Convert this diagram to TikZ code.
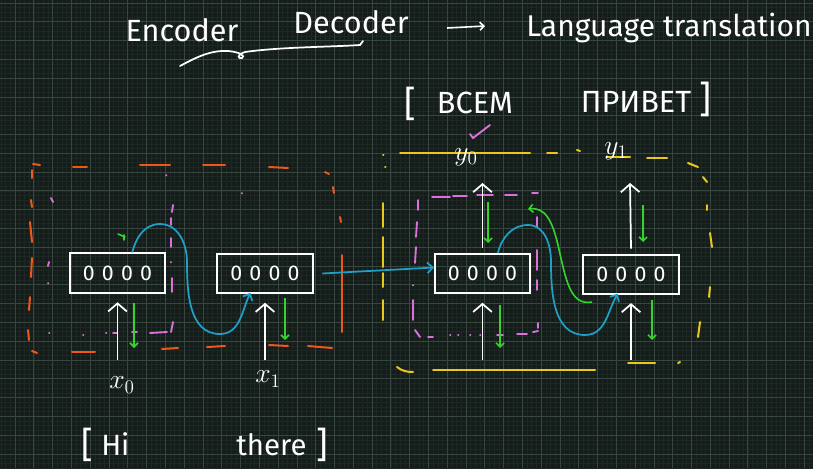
\documentclass[tikz,border=0pt]{standalone}
\usepackage{fontspec}
\setmainfont{Fira Sans}
\usetikzlibrary{arrows.meta,calc}
\definecolor{bgc}{RGB}{21,29,26}
\definecolor{gridmin}{RGB}{29,39,35}
\definecolor{gridmaj}{RGB}{56,70,64}
\definecolor{ocol}{RGB}{240,88,26}
\definecolor{pcol}{RGB}{222,112,222}
\definecolor{ycol}{RGB}{232,200,26}
\definecolor{bcol}{RGB}{30,160,200}
\definecolor{gcol}{RGB}{52,212,44}
\tikzset{
  cell/.style={draw=white, line width=1.4pt, minimum width=71.5pt, minimum height=29.5pt,
    inner sep=0pt, text=white, font=\fontsize{16}{16}\selectfont},
  warr/.style={white, line width=1.3pt, -{Straight Barb[length=6pt,width=14pt,line width=1.3pt]}},
  garr/.style={gcol, line width=1.2pt, -{Straight Barb[length=3pt,width=6pt,line width=1.2pt]}},
  barr/.style={bcol, line width=1.3pt, -{Straight Barb[length=4pt,width=8pt,line width=1.3pt]}},
  oseg/.style={ocol, line width=1.5pt, line cap=round},
  pseg/.style={pcol, line width=1.4pt, line cap=round},
  yseg/.style={ycol, line width=1.5pt, line cap=round},
  hand/.style={text=white, inner sep=0pt},
}
\newcommand{\zeros}{0\kern5.4pt0\kern5.4pt0\kern5.4pt0}
\begin{document}
\begin{tikzpicture}[x=0.75pt,y=0.75pt]
\useasboundingbox (0,0) rectangle (813,-468);
\fill[bgc] (0,0) rectangle (813,-468);
% grid
\foreach \k in {-3,...,169} {\draw[gridmin, line width=0.4pt] ({15+\k*4.6975},0) -- ({15+\k*4.6975},-468);}
\foreach \k in {-4,...,95} {\draw[gridmin, line width=0.4pt] (0,{-21.7-\k*4.6975}) -- (813,{-21.7-\k*4.6975});}
\foreach \k in {0,...,42} {\draw[gridmaj, line width=0.5pt] ({15+\k*18.79},0) -- ({15+\k*18.79},-468);}
\foreach \k in {-1,...,23} {\draw[gridmaj, line width=0.5pt] (0,{-21.7-\k*18.79}) -- (813,{-21.7-\k*18.79});}

% title
\node[hand, anchor=base, font=\fontsize{23}{26}\selectfont] (enc) at (182,-41) {Encoder};
\node[hand, anchor=base, font=\fontsize{23}{26}\selectfont] (dec) at (351,-33) {Decoder};
\node[hand, anchor=base, font=\fontsize{22.5}{26}\selectfont] (lang) at (669,-36) {Language translation};
\coordinate (ta) at (447,-28);
\coordinate (tb) at (485,-26);
\draw[white, line width=1.2pt, -{Straight Barb[length=3pt,width=6pt,line width=1.2pt]}] (ta) -- (tb);
\draw[white, line width=1.3pt, line cap=round]
  (180,-66) .. controls (195,-58) and (210,-50) .. (228,-51)
  .. controls (240,-52) and (246,-56) .. (242,-58)
  .. controls (238,-59) and (236,-55) .. (245,-52)
  .. controls (280,-47) and (330,-47) .. (360,-45)
  -- (363,-41);

% russian translation
\node[hand, anchor=base, font=\fontsize{27}{30}\selectfont] (lb1) at (410,-116) {[};
\node[hand, anchor=base, font=\fontsize{23}{26}\selectfont] (vsem) at (475,-113) {ВСЕМ};
\node[hand, anchor=base, font=\fontsize{23}{26}\selectfont] (priv) at (636,-112) {ПРИВЕТ};
\node[hand, anchor=base, font=\fontsize{28}{30}\selectfont] (rb1) at (705,-112) {]};
\draw[pcol, line width=1.4pt, line cap=round, line join=round] (470,-134) -- (473,-138) -- (490,-125);

% cells
\node[cell] (e1) at (117.5,-273) {\zeros};
\node[cell] (e2) at (265,-273.5) {\zeros};
\node[cell] (d1) at (482.5,-273.5) {\zeros};
\node[cell] (d2) at (631,-274.5) {\zeros};

% region boxes (hand-drawn dashes)
\foreach \a/\b/\c/\d in {33/164/40/165, 73/167/87/167, 140/165/170/165, 203/165/225/165, 269/167/288/168, 325/172/329/174,
  333/187/334/193, 340/217/341/222, 342/255/342/332,
  308/346/332/348, 269/345/288/346, 207/347/225/346, 162/349/178/348, 72/352/95/352, 32/351/37/353,
  32/170/32/178, 31/200/32/207, 30/222/32/242, 32/258/31/277, 30/297/29/310, 28/330/29/340}
  {\draw[oseg] (\a,-\b) -- (\c,-\d);}
\foreach \a/\b/\c/\d in {166/175/166.5/175.5, 51/198/53/202, 49/262/48/266, 48/283/48.5/283.5, 49/333/49.5/333,
  83/335/83.5/335, 106/333/106.5/333, 113/333/117/333, 132/332/137/332, 150/333/167/332, 171/332/173/322,
  172/278/172/292, 171/262/171/262.5, 171/238/171/247, 171/218/171/225, 173/205/172/212, 242/193/242/193.5}
  {\draw[pseg] (\a,-\b) -- (\c,-\d);}
\foreach \a/\b/\c/\d in {432/197/450/197, 453/196/467/196, 477/195/493/195, 505/195/517/195, 532/193/538/193,
  418/200/418/210, 417/222/416/237, 416/247/415/263, 413/285/413/285.5, 413/300/413/320, 415/330/420/337,
  428/337/433/337, 450/335/450.5/335, 458/335/458.5/335, 470/335/470.5/335, 480/335/480.5/335, 497/335/503/335,
  517/334/527/334, 533/332/538/331, 538/323/538/328, 537/280/537/290, 537/250/537/270, 537/217/537/227}
  {\draw[pseg] (\a,-\b) -- (\c,-\d);}
\foreach \a/\b/\c/\d in {400/153/530/153, 547/153/557/153, 577/150/580/151, 607/157/630/157, 647/158/667/158, 688/163/698/167,
  703/177/707/182, 707/205/707/210, 710/233/712/247, 710/287/709/297, 700/322/698/337, 680/362/678/363,
  628/363/655/363, 433/370/595/370, 383/203/383/227, 383/237/383/267, 383/273/383/287, 383/300/383/320,
  383/155/383.5/155, 385/167/385.5/167}
  {\draw[yseg] (\a,-\b) -- (\c,-\d);}
\draw[yseg] (397,-367) .. controls (402,-371) and (407,-372) .. (413,-372);

% inputs
\coordinate (i1) at (117.5,-360);
\coordinate (i2) at (265,-360);
\coordinate (i3) at (482.5,-360);
\coordinate (i4) at (631,-360);
\draw[warr] (i1) -- ([yshift=-6.5pt]e1.south);
\draw[warr] (i2) -- ([yshift=-6.5pt]e2.south);
\draw[warr] (i3) -- ([yshift=-6.5pt]d1.south);
\draw[warr] (i4) -- ([yshift=-6pt]d2.south);
% outputs
\coordinate (o1) at (482.5,-183);
\coordinate (o2) at (630,-183);
\draw[warr] ([yshift=4pt]d1.north) -- (o1);
\draw[warr] ([yshift=4pt]d2.north) -- (o2);

% labels
\node[hand, font=\fontsize{20}{22}\selectfont] (x0) at (122,-385) {$x_0$};
\node[hand, font=\fontsize{20}{22}\selectfont] (x1) at (268,-379) {$x_1$};
\node[hand, font=\fontsize{20}{22}\selectfont] (y0) at (466,-157) {$y_0$};
\node[hand, font=\fontsize{20}{22}\selectfont] (y1) at (616,-151) {$y_1$};

% source sentence
\node[hand, anchor=base west, font=\fontsize{27}{30}\selectfont] (lb2) at (81,-457) {[};
\node[hand, anchor=base west, font=\fontsize{22}{26}\selectfont] (hi) at (101,-455) {Hi};
\node[hand, anchor=base west, font=\fontsize{22}{26}\selectfont] (there) at (236,-455) {there};
\node[hand, anchor=base west, font=\fontsize{27}{30}\selectfont] (rb2) at (316,-457) {]};

% green arrows
\draw[garr] (134,-303) -- (134,-348);
\draw[garr] (285,-298) -- (285,-340);
\draw[garr] (488,-202) -- (488,-243);
\draw[garr] (500,-305) -- (500,-348);
\draw[garr] (643,-205) -- (643,-242);
\draw[garr] (652,-300) -- (652,-340);
\draw[gcol, line width=1.2pt, line cap=round] (118,-234) -- (125,-237) (124,-235) -- (124,-240);
\coordinate (gs) at (592,-302);
\draw[garr] (gs) .. controls (570,-306) and (566,-280) .. (558,-245)
  .. controls (552,-220) and (545,-207) .. (528,-209);

% blue arrows
\draw[barr] ([xshift=6.5pt]e2.east) -- ([yshift=4.5pt]d1.west);
\draw[barr] ([xshift=11pt]e1.north) to[out=75,in=180] (160,-224) to[out=0,in=90] (187,-262)
  to[out=-90,in=180] (220,-334) to[out=0,in=-115] ([xshift=-11pt,yshift=1pt]e2.south);
\draw[barr] ([xshift=11.5pt]d1.north) to[out=75,in=180] (528,-225) to[out=0,in=90] (551,-262)
  to[out=-90,in=180] (585,-335) to[out=0,in=-120] ([xshift=-10pt,yshift=1pt]d2.south);
\end{tikzpicture}
\end{document}
